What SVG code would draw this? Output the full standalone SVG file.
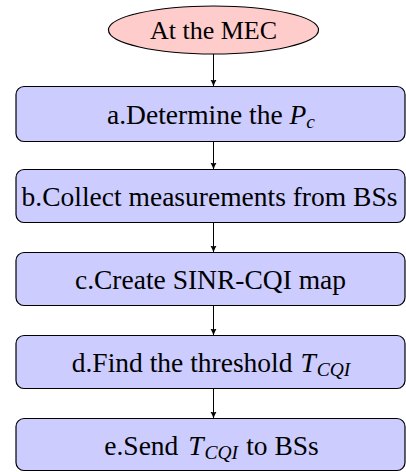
<svg xmlns="http://www.w3.org/2000/svg" width="406" height="472" viewBox="0 0 406 472">
<style>
.box{fill:#ccccff;stroke:#000;stroke-width:1.2}
.ell{fill:#ffcccc;stroke:#000;stroke-width:1.2}
.t{font-family:'Liberation Serif','Times New Roman',Times,serif;font-size:27.5px;fill:#000;text-anchor:middle}
.t0{font-size:26px}
.m{font-style:italic}
.s{font-style:italic;font-size:19.5px}
.conn{stroke:#000;stroke-width:1;fill:none;marker-end:url(#ah)}
</style>
<defs>
<marker id="ah" markerWidth="8" markerHeight="8" refX="7" refY="4" orient="auto" markerUnits="userSpaceOnUse">
<path d="M0,0.8 Q3.5,3 7,4 Q3.5,5 0,7.2 Q1.5,4 0,0.8Z" fill="#000"/>
</marker>
</defs>
<g id="start">
<ellipse class="ell" cx="213.5" cy="30" rx="105" ry="24"/>
<text class="t t0" x="213.5" y="39">At the MEC</text>
</g>
<g id="a">
<rect class="box" x="16" y="86.5" width="389" height="55" rx="8"/>
<text class="t" x="211" y="123.5">a.Determine the <tspan class="m">P</tspan><tspan class="s" dy="4">c</tspan></text>
</g>
<g id="b">
<rect class="box" x="16" y="169.5" width="389" height="53" rx="8"/>
<text class="t" x="209.5" y="205.5">b.Collect measurements from BSs</text>
</g>
<g id="c">
<rect class="box" x="16" y="252.5" width="389" height="53" rx="8"/>
<text class="t" x="210.5" y="288.5">c.Create SINR-CQI map</text>
</g>
<g id="d">
<rect class="box" x="16" y="335.5" width="389" height="53" rx="8"/>
<text class="t" x="211" y="371.5">d.Find the threshold <tspan class="m" dx="1">T</tspan><tspan class="s" dy="4" dx="1">CQI</tspan></text>
</g>
<g id="e">
<rect class="box" x="16" y="418.5" width="389" height="52" rx="8"/>
<text class="t" x="211.5" y="454.5">e.Send <tspan class="m" dx="3">T</tspan><tspan class="s" dy="4" dx="1">CQI</tspan><tspan dy="-4" dx="8">to BSs</tspan></text>
</g>
<g id="connectors">
<line class="conn" x1="213.5" y1="54" x2="213.5" y2="86.5"/>
<line class="conn" x1="213.5" y1="141.5" x2="213.5" y2="169.5"/>
<line class="conn" x1="213.5" y1="222.5" x2="213.5" y2="252.5"/>
<line class="conn" x1="213.5" y1="305.5" x2="213.5" y2="335.5"/>
<line class="conn" x1="213.5" y1="388.5" x2="213.5" y2="418.5"/>
</g>
</svg>
